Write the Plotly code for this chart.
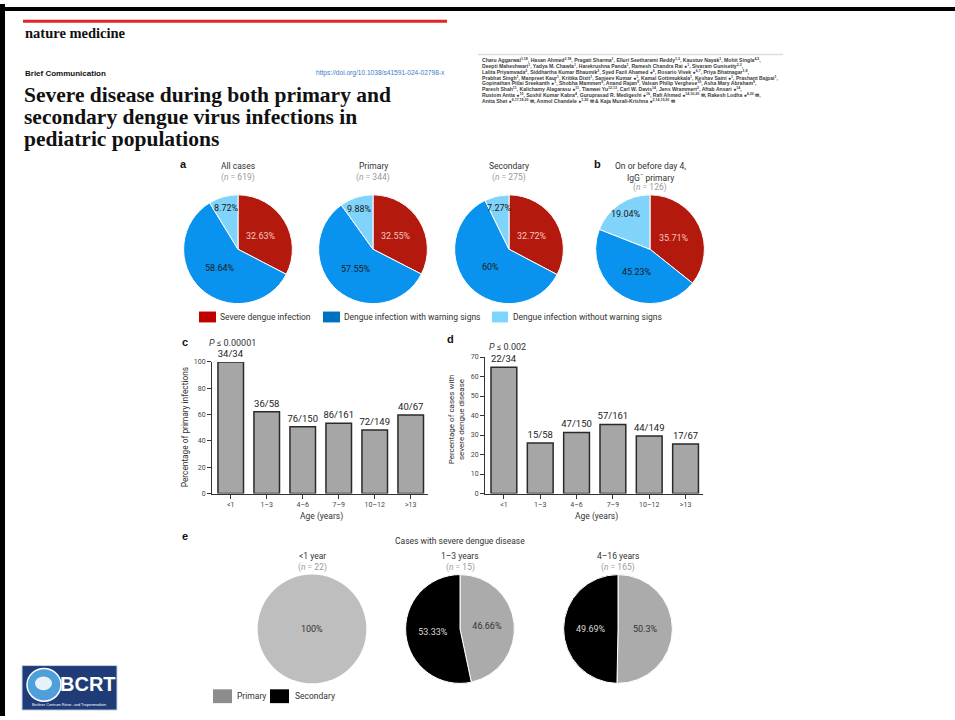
import numpy as np
import plotly.graph_objects as go

W, H = 955, 720
def X(p): return p / W
def Y(p): return 1 - p / H
def dom(cx, cy, r):
    return dict(x=[X(cx - r), X(cx + r)], y=[Y(cy + r), Y(cy - r)])

# ---------------- data ----------------
a_labels = ["Severe dengue infection", "Dengue infection with warning signs",
            "Dengue infection without warning signs"]
all_cases = [32.63, 58.64, 8.72]
primary = [32.55, 57.55, 9.88]
secondary = [32.72, 60, 7.27]
day4_igg_primary = [35.71, 45.23, 19.04]
a_titles = ["All cases", "Primary", "Secondary"]
a_n = [619, 344, 275]
b_n = 126

ages = ["<1", "1–3", "4–6", "7–9", "10–12", ">13"]
age_ticktext = ["&lt;1", "1–3", "4–6", "7–9", "10–12", "&gt;13"]
c_values = [100, 62.1, 50.7, 53.4, 48.3, 59.7]
c_labels = ["34/34", "36/58", "76/150", "86/161", "72/149", "40/67"]
d_values = [64.7, 25.9, 31.3, 35.4, 29.5, 25.4]
d_labels = ["22/34", "15/58", "47/150", "57/161", "44/149", "17/67"]

e_labels = ["Primary", "Secondary"]
e_groups = ["&lt;1 year", "1–3 years", "4–16 years"]
e_n = [22, 15, 165]
e_primary = [100, 46.66, 50.3]
e_secondary = [0, 53.33, 49.69]

authors = [
    "Charu Aggarwal<sup>1,18</sup>, Hasan Ahmed<sup>2,18</sup>, Pragati Sharma<sup>1</sup>, Elluri Seetharami Reddy<sup>1,3</sup>, Kaustuv Nayak<sup>1</sup>, Mohit Singla<sup>4,5</sup>,",
    "Deepti Maheshwari<sup>1</sup>, Yadya M. Chawla<sup>1</sup>, Harekrushna Panda<sup>1</sup>, Ramesh Chandra Rai ●<sup>1</sup>, Sivaram Gunisetty<sup>2,3</sup>,",
    "Lalita Priyamvada<sup>2</sup>, Siddhartha Kumar Bhaumik<sup>2</sup>, Syed Fazil Ahamed ●<sup>6</sup>, Rosario Vivek ●<sup>6,7</sup>, Priya Bhatnagar<sup>1,8</sup>,",
    "Prabhat Singh<sup>1</sup>, Manpreet Kaur<sup>1</sup>, Kritika Dixit<sup>1</sup>, Sanjeev Kumar ●<sup>1</sup>, Kamal Gottimukkala<sup>1</sup>, Keshav Saini ●<sup>1</sup>, Prashant Bajpai<sup>1</sup>,",
    "Gopinathan Pillai Sreekanth ●<sup>1</sup>, Shobha Mammen<sup>9</sup>, Anand Rajan<sup>9</sup>, Valsan Philip Verghese<sup>10</sup>, Asha Mary Abraham<sup>9</sup>,",
    "Paresh Shah<sup>11</sup>, Kalichamy Alagarasu ●<sup>11</sup>, Tianwei Yu<sup>12,13</sup>, Carl W. Davis<sup>14</sup>, Jens Wrammert<sup>2</sup>, Aftab Ansari ●<sup>14</sup>,",
    "Rustom Antia ●<sup>15</sup>, Sushil Kumar Kabra<sup>4</sup>, Guruprasad R. Medigeshi ●<sup>16</sup>, Rafi Ahmed ●<sup>14,16,20</sup> ✉, Rakesh Lodha ●<sup>4,20</sup> ✉,",
    "Anita Shet ●<sup>6,17,18,20</sup> ✉, Anmol Chandele ●<sup>1,20</sup> ✉ & Kaja Murali-Krishna ●<sup>2,14,19,20</sup> ✉",
]

# ---------------- style ----------------
SANS = "Roboto"
RED, BLUE, LBLUE = "#B3190C", "#0A93EE", "#80D3FA"
LEG_COLS = ["#C00000", "#0070C0", "#7DD6FF"]
a_textcols = ["#F3C6C0", "#1A1A1A", "#1A1A1A"]
GREY_E = ["#BEBEBE", "#ABABAB", "#ABABAB"]
TXT = "#333333"
R_PIE = 55

fig = go.Figure()
ann = []
def T(x, y, text, size=8.5, color=TXT, xanchor="center", family=SANS, angle=0):
    ann.append(dict(x=X(x), y=Y(y), xref="paper", yref="paper", text=text,
                    showarrow=False, xanchor=xanchor, yanchor="middle", textangle=angle,
                    font=dict(family=family, size=size, color=color)))

# ---------------- panel a / b pies ----------------
pie_sets = [all_cases, primary, secondary, day4_igg_primary]
pie_cx = [238, 373, 509, 650]
PIE_CY = 248
for vals, cx in zip(pie_sets, pie_cx):
    fig.add_trace(go.Pie(
        values=vals, labels=a_labels, sort=False, direction="clockwise", rotation=0,
        domain=dom(cx, PIE_CY, R_PIE),
        marker=dict(colors=[RED, BLUE, LBLUE], line=dict(color="white", width=1)),
        textinfo="none", hoverinfo="skip", showlegend=False))
    # slice labels at the slice mid-angle (full size, like the original)
    v = np.array(vals, dtype=float)
    frac = v / v.sum()
    mid = (np.cumsum(frac) - frac / 2) * 2 * np.pi
    for val, f, th, tc in zip(vals, frac, mid, a_textcols):
        rr = R_PIE * (0.48 if f > 0.25 else 0.78)
        T(cx + rr * np.sin(th), PIE_CY - rr * np.cos(th), "%s%%" % val, size=9, color=tc)

# ---------------- panel e pies ----------------
e_cx = [312, 460, 618]
for i, cx in enumerate(e_cx):
    vals, labs, cols, tcols = [], [], [], []
    if e_primary[i] > 0:
        vals.append(e_primary[i]); labs.append(e_labels[0]); cols.append(GREY_E[i]); tcols.append("#333333")
    if e_secondary[i] > 0:
        vals.append(e_secondary[i]); labs.append(e_labels[1]); cols.append("#000000"); tcols.append("#D9D9D9")
    fig.add_trace(go.Pie(
        values=vals, labels=labs, sort=False, direction="clockwise", rotation=0,
        domain=dom(cx, 632, R_PIE),
        marker=dict(colors=cols, line=dict(color="white", width=1 if len(vals) > 1 else 0)),
        texttemplate="%{value}%", textposition="inside",
        insidetextorientation="horizontal",
        textfont=dict(family=SANS, size=9, color=tcols),
        hoverinfo="skip", showlegend=False))

# ---------------- bar charts ----------------
bar_style = dict(marker=dict(color="#A6A6A6", line=dict(color="#2A2A2A", width=1.5)),
                 textposition="outside", cliponaxis=False, constraintext="none",
                 textfont=dict(family=SANS, size=9.5, color="#222222"),
                 hoverinfo="skip", showlegend=False)
fig.add_trace(go.Bar(x=ages, y=c_values, text=c_labels, texttemplate="%{text}",
                     xaxis="x", yaxis="y", **bar_style))
fig.add_trace(go.Bar(x=ages, y=d_values, text=d_labels, texttemplate="%{text}",
                     xaxis="x2", yaxis="y2", **bar_style))

ax_common = dict(showline=True, linecolor="#333333", linewidth=1, ticks="outside",
                 ticklen=4, tickwidth=1, tickcolor="#333333", showgrid=False,
                 zeroline=False, tickfont=dict(family=SANS, size=7, color="#444444"),
                 fixedrange=True)

fig.update_layout(
    width=W, height=H, margin=dict(l=0, r=0, t=0, b=0),
    paper_bgcolor="white", plot_bgcolor="white", showlegend=False,
    bargap=0.29,
    xaxis=dict(domain=[X(212), X(428)], anchor="y", range=[-0.52, 5.48],
               tickmode="array", tickvals=ages, ticktext=age_ticktext, **ax_common),
    yaxis=dict(domain=[Y(495), Y(362)], anchor="x", range=[0, 100], dtick=20, **ax_common),
    xaxis2=dict(domain=[X(485), X(703)], anchor="y2", range=[-0.52, 5.48],
                tickmode="array", tickvals=ages, ticktext=age_ticktext, **ax_common),
    yaxis2=dict(domain=[Y(495), Y(357)], anchor="x2", range=[0, 70], dtick=10, **ax_common),
)

# header
SERIF = "Liberation Serif"
T(23, 29, "<b>nature medicine</b>", size=14.5, color="#111111", xanchor="left", family=SERIF)
T(23, 70, "<b>Brief Communication</b>", size=8, color="#111111", xanchor="left", family="Liberation Sans")
T(447, 70, "https://doi.org/10.1038/s41591-024-02798-x", size=6.6, color="#3B7CC8",
  xanchor="right", family="Liberation Sans")
title_lines = ["Severe disease during both primary and",
               "secondary dengue virus infections in",
               "pediatric populations"]
for k, line in enumerate(title_lines):
    T(22, 92 + k * 22.5, "<b>" + line + "</b>", size=21.5, color="#111111",
      xanchor="left", family=SERIF)
for k, line in enumerate(authors):
    T(480, 57 + k * 5.8, "<b>" + line + "</b>", size=5.1, color="#3A3A3A",
      xanchor="left", family="Liberation Sans")

# panel letters
for (lx, ly, l) in [(183, 162, "a"), (597, 162, "b"), (185, 342, "c"), (450, 339, "d"), (185, 538, "e")]:
    T(lx, ly, "<b>" + l + "</b>", size=11, color="#111111", family="Liberation Sans")

# pie titles
for t, n, cx in zip(a_titles, a_n, pie_cx[:3]):
    T(cx, 164, t, size=8.5)
    T(cx, 175, "(<i>n</i> = %d)" % n, size=8.5, color="#9A9A9A")
T(650, 164, "On or before day 4,", size=8.5)
T(650, 175, "IgG<sup>−</sup> primary", size=8.5)
T(650, 186, "(<i>n</i> = %d)" % b_n, size=8.5, color="#9A9A9A")

# legend a
leg_x = [(199, 216, 218), (323, 340, 342), (492, 508, 511)]
shapes = []
for (x0, x1, tx), col, lab in zip(leg_x, LEG_COLS, a_labels):
    shapes.append(dict(type="rect", xref="paper", yref="paper", x0=X(x0), x1=X(x1),
                       y0=Y(322), y1=Y(311), fillcolor=col, line=dict(width=0)))
    T(tx, 316.5, lab, size=8.5, xanchor="left")

# bar chart texts
T(207, 343, "<i>P</i> ≤ 0.00001", size=9, xanchor="left")
T(487, 347, "<i>P</i> ≤ 0.002", size=9, xanchor="left")
T(185, 428, "Percentage of primary infections", size=8.3, angle=-90)
T(456, 420, "Percentage of cases with<br>severe dengue disease", size=8, angle=-90)
T(321, 518, "Age (years)", size=8.5)
T(596, 518, "Age (years)", size=8.5)

# panel e texts
T(460, 543, "Cases with severe dengue disease", size=8.5)
for g, n, cx in zip(e_groups, e_n, e_cx):
    T(cx, 558, g, size=8.5)
    T(cx, 570, "(<i>n</i> = %d)" % n, size=8.5, color="#9A9A9A")
shapes.append(dict(type="rect", xref="paper", yref="paper", x0=X(213), x1=X(232),
                   y0=Y(707), y1=Y(693), fillcolor="#8C8C8C", line=dict(width=0)))
T(235, 700, "Primary", size=8.5, xanchor="left")
shapes.append(dict(type="rect", xref="paper", yref="paper", x0=X(270), x1=X(289),
                   y0=Y(707), y1=Y(693), fillcolor="#000000", line=dict(width=0)))
T(293, 700, "Secondary", size=8.5, xanchor="left")

# header decorations
shapes.append(dict(type="rect", xref="paper", yref="paper", x0=X(23), x1=X(447),
                   y0=Y(19), y1=Y(16), fillcolor="#E5232B", line=dict(width=0)))
shapes.append(dict(type="line", xref="paper", yref="paper", x0=X(478), x1=X(783),
                   y0=Y(51), y1=Y(51), line=dict(color="#DDDDDD", width=1.5)))
# frame
shapes.append(dict(type="rect", xref="paper", yref="paper", x0=0, x1=1,
                   y0=Y(7), y1=Y(3), fillcolor="#000000", line=dict(width=0)))
shapes.append(dict(type="rect", xref="paper", yref="paper", x0=0, x1=X(5),
                   y0=0, y1=1, fillcolor="#000000", line=dict(width=0)))

# logo
shapes.append(dict(type="rect", xref="paper", yref="paper", x0=X(22), x1=X(117),
                   y0=Y(714), y1=Y(669), fillcolor="#1F3B78", line=dict(color="#C9D3E6", width=1)))
shapes.append(dict(type="circle", xref="paper", yref="paper", x0=X(27), x1=X(61),
                   y0=Y(705), y1=Y(672), fillcolor="#4F9FDB", line=dict(color="white", width=1.5)))
shapes.append(dict(type="circle", xref="paper", yref="paper", x0=X(35), x1=X(52),
                   y0=Y(694), y1=Y(680), fillcolor="#E6F1FA", line=dict(width=0)))
T(88, 688, "<b>BCRT</b>", size=20, color="white", family="Liberation Sans")
T(69, 709, "Berliner Centrum Reise- und Tropenmedizin", size=3.8, color="white", family="Liberation Sans")

fig.update_layout(annotations=ann, shapes=shapes)
fig.write_html("out.html")
